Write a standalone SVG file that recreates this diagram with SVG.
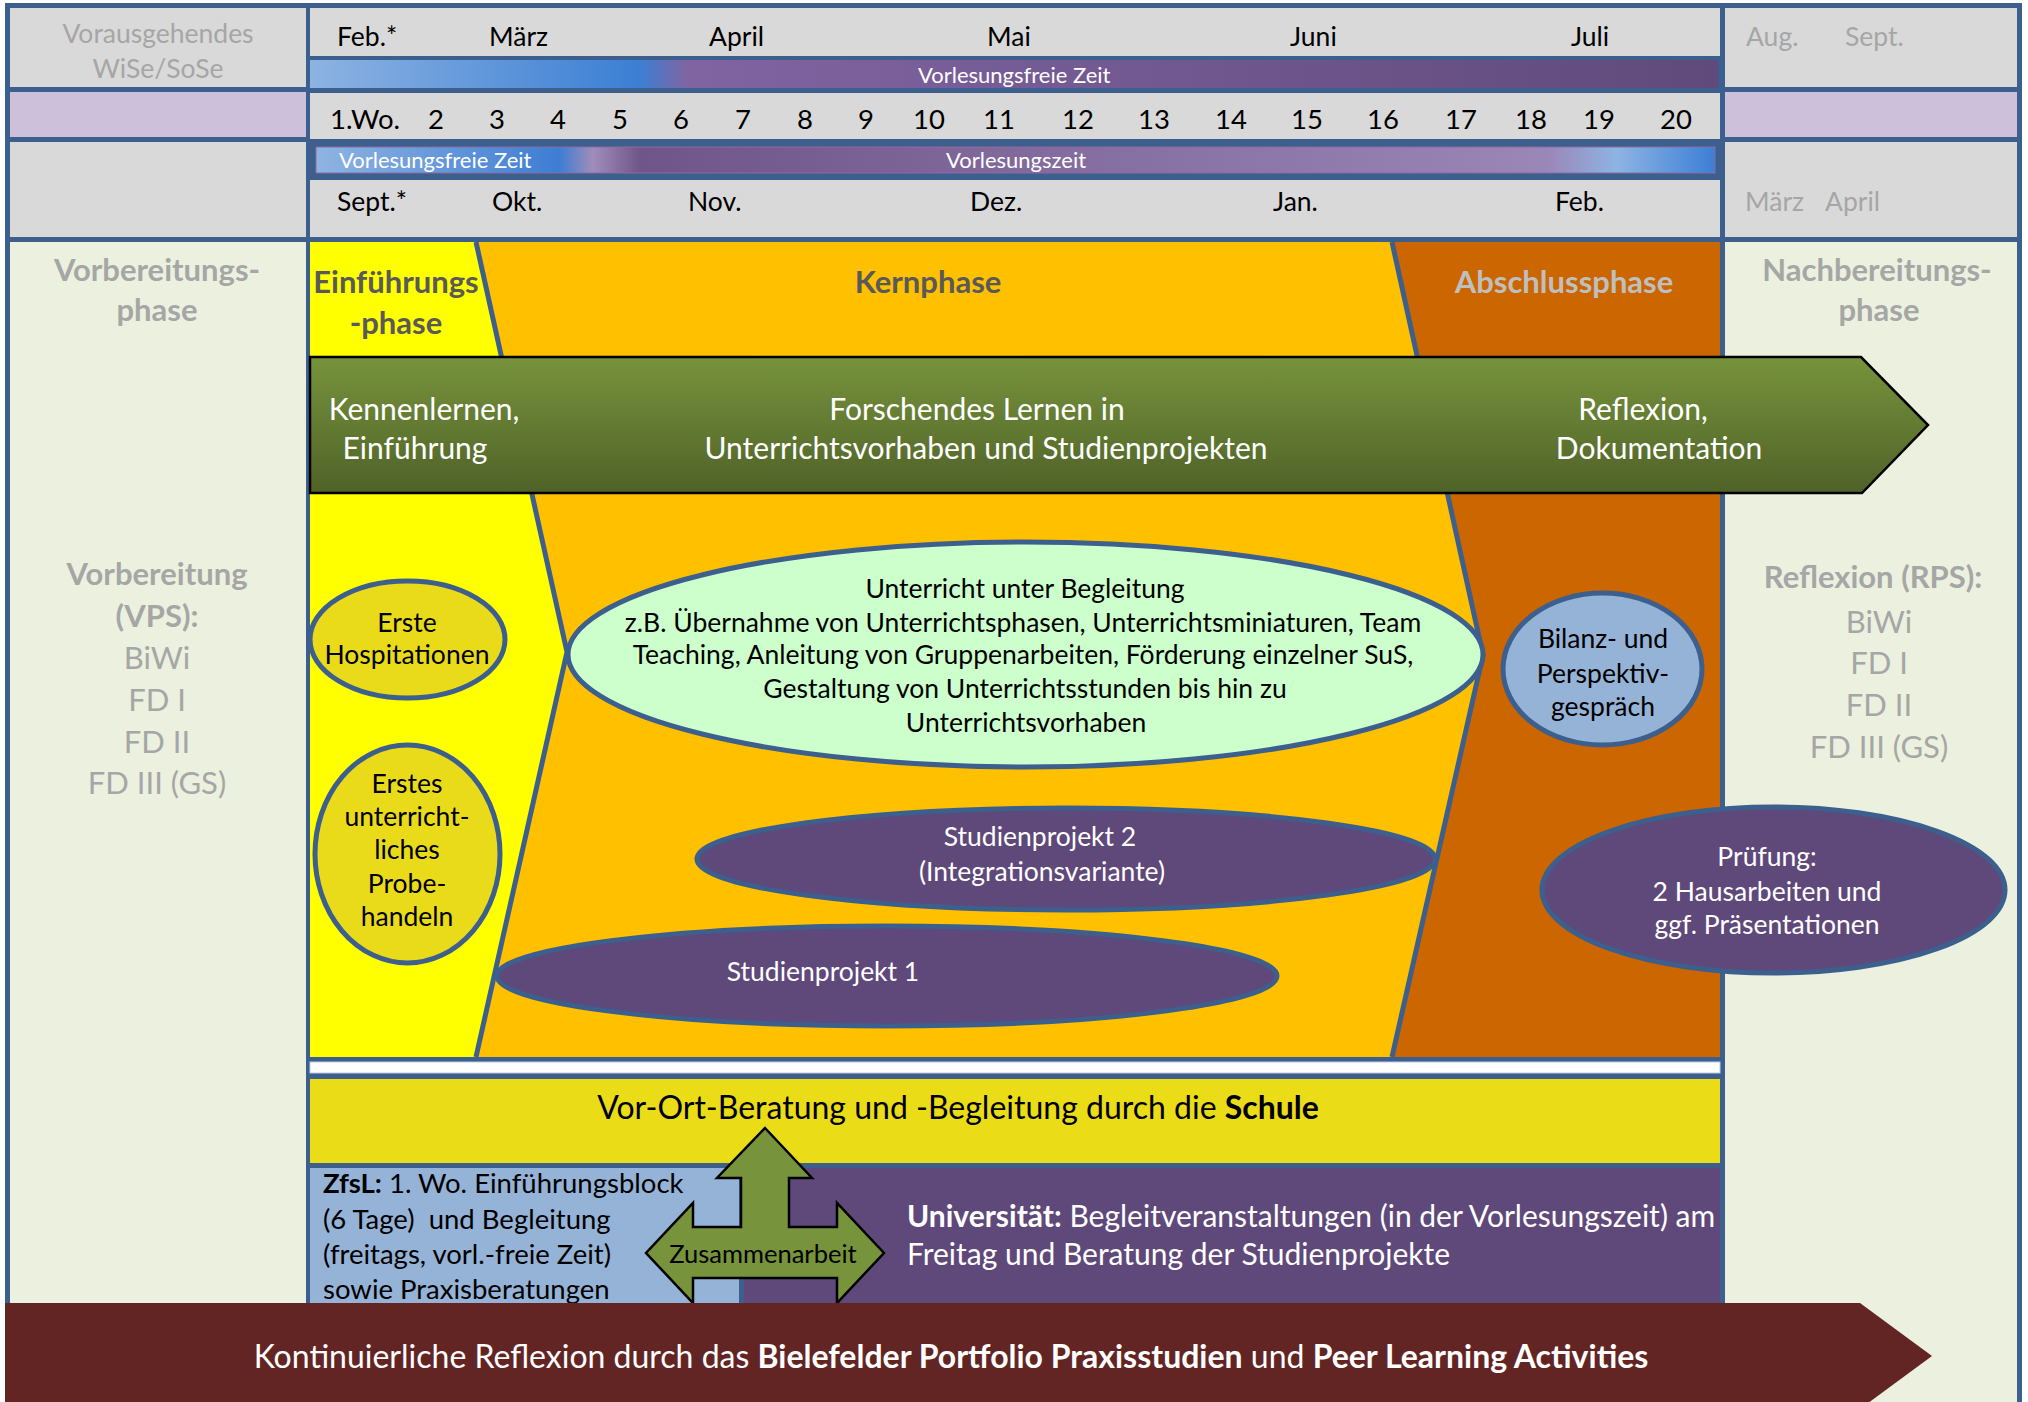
<svg xmlns="http://www.w3.org/2000/svg" width="2028" height="1402" viewBox="0 0 2028 1402">
<style>
text{font-family:Lato,"Liberation Sans","DejaVu Sans",sans-serif;}
.mo{font-size:26.5px;fill:#000;}
.wk{font-size:27.5px;fill:#000;}
.gr{font-size:26.5px;fill:#A6A6A6;}
.bar{font-size:22px;fill:#fff;}
.ph{font-size:31px;font-weight:bold;}
.side{font-size:31px;fill:#A6A6A6;text-anchor:middle;}
.sideb{font-size:31px;fill:#A6A6A6;font-weight:bold;text-anchor:middle;}
.arr{font-size:30px;fill:#fff;text-anchor:middle;}
.el{font-size:26.5px;text-anchor:middle;}
.gray{fill:#D9D9D9;}
.lil{fill:#CCC0DA;}
.lg{fill:#EBF1DE;}
.ell{stroke:#3C5F8D;stroke-width:5;}
.div{fill:none;stroke:#3C5F8D;stroke-width:5;stroke-linejoin:round;}
</style>
<defs>
<linearGradient id="barTop" x1="0" y1="0" x2="1" y2="0">
<stop offset="0" stop-color="#8DB3E2"/>
<stop offset="0.234" stop-color="#3B7FD4"/>
<stop offset="0.268" stop-color="#8064A2"/>
<stop offset="1" stop-color="#604A7B"/>
</linearGradient>
<linearGradient id="barBot" x1="0" y1="0" x2="1" y2="0">
<stop offset="0" stop-color="#8EB4E3"/>
<stop offset="0.174" stop-color="#3E7DD3"/>
<stop offset="0.198" stop-color="#A08DBA"/>
<stop offset="0.232" stop-color="#6F5589"/>
<stop offset="0.88" stop-color="#9B86B8"/>
<stop offset="0.93" stop-color="#8DB4E3"/>
<stop offset="1" stop-color="#3C7ED6"/>
</linearGradient>
<linearGradient id="greenGrad" x1="0" y1="0" x2="0" y2="1">
<stop offset="0" stop-color="#77933C"/>
<stop offset="1" stop-color="#4F6228"/>
</linearGradient>
</defs>

<rect x="5" y="3" width="2017" height="1399" fill="#3C5F8D"/>

<g id="header-left">
<rect class="gray" x="10" y="8" width="296" height="79"/>
<rect class="lil" x="10" y="92" width="296" height="45"/>
<rect class="gray" x="10" y="142" width="296" height="95"/>
<text class="gr" x="158" y="43" text-anchor="middle">Vorausgehendes</text>
<text class="gr" x="158" y="78" text-anchor="middle">WiSe/SoSe</text>
</g>

<g id="header-middle">
<rect class="gray" x="310" y="8" width="1410" height="48"/>
<rect x="310" y="60" width="1408" height="28" fill="url(#barTop)"/>
<rect class="gray" x="310" y="93" width="1410" height="46"/>
<rect x="316" y="147" width="1399" height="26" fill="url(#barBot)" stroke="#8E6A9E" stroke-width="1"/>
<rect class="gray" x="310" y="180" width="1410" height="57"/>
<text class="mo" y="45.5"><tspan x="337">Feb.*</tspan><tspan x="489">März</tspan><tspan x="709">April</tspan><tspan x="987">Mai</tspan><tspan x="1290">Juni</tspan><tspan x="1571">Juli</tspan></text>
<text class="bar" x="918" y="83">Vorlesungsfreie Zeit</text>
<text class="wk" y="129"><tspan x="330">1.Wo.</tspan><tspan x="428">2</tspan><tspan x="489">3</tspan><tspan x="550">4</tspan><tspan x="612">5</tspan><tspan x="673">6</tspan><tspan x="735">7</tspan><tspan x="797">8</tspan><tspan x="858">9</tspan><tspan x="913">10</tspan><tspan x="983">11</tspan><tspan x="1062">12</tspan><tspan x="1138">13</tspan><tspan x="1215">14</tspan><tspan x="1291">15</tspan><tspan x="1367">16</tspan><tspan x="1445">17</tspan><tspan x="1515">18</tspan><tspan x="1583">19</tspan><tspan x="1660">20</tspan></text>
<text class="bar" x="339" y="168">Vorlesungsfreie Zeit</text>
<text class="bar" x="946" y="168">Vorlesungszeit</text>
<text class="mo" y="211"><tspan x="337">Sept.*</tspan><tspan x="492">Okt.</tspan><tspan x="688">Nov.</tspan><tspan x="970">Dez.</tspan><tspan x="1273">Jan.</tspan><tspan x="1555">Feb.</tspan></text>
</g>

<g id="header-right">
<rect class="gray" x="1725" y="8" width="292" height="79"/>
<rect class="lil" x="1725" y="92" width="292" height="45"/>
<rect class="gray" x="1725" y="142" width="292" height="95"/>
<text class="gr" y="45.5"><tspan x="1746">Aug.</tspan><tspan x="1845">Sept.</tspan></text>
<text class="gr" y="211"><tspan x="1745">März</tspan><tspan x="1825">April</tspan></text>
</g>

<g id="vorbereitungsphase">
<rect class="lg" x="10" y="242" width="296" height="1061"/>
<text class="sideb" x="157" y="281">Vorbereitungs-</text>
<text class="sideb" x="157" y="321">phase</text>
<text class="sideb" x="157" y="585">Vorbereitung</text>
<text class="sideb" x="157" y="627">(VPS):</text>
<text class="side" x="157" y="669">BiWi</text>
<text class="side" x="157" y="711">FD I</text>
<text class="side" x="157" y="753">FD II</text>
<text class="side" x="157" y="794">FD III (GS)</text>
</g>

<g id="nachbereitungsphase">
<rect class="lg" x="1725" y="242" width="292" height="1160"/>
<text class="sideb" x="1877" y="281">Nachbereitungs-</text>
<text class="sideb" x="1879" y="321">phase</text>
<text class="sideb" x="1873" y="588">Reflexion (RPS):</text>
<text class="side" x="1879" y="633">BiWi</text>
<text class="side" x="1879" y="674">FD I</text>
<text class="side" x="1879" y="716">FD II</text>
<text class="side" x="1879" y="758">FD III (GS)</text>
</g>

<g id="phasen">
<polygon points="310,242 476,242 567,652 476,1057 310,1057" fill="#FFFF00"/>
<polygon points="476,242 1392,242 1483,655 1392,1057 476,1057 567,652" fill="#FFC000"/>
<polygon points="1392,242 1720,242 1720,1057 1392,1057 1483,655" fill="#CC6600"/>
<polyline class="div" points="476,242 567,652 476,1057"/>
<polyline class="div" points="1392,242 1483,655 1392,1057"/>
<text class="ph" x="396" y="293" text-anchor="middle" fill="#595959">Einführungs</text>
<text class="ph" x="396" y="334" text-anchor="middle" fill="#595959">-phase</text>
<text class="ph" x="928" y="293" text-anchor="middle" fill="#595959">Kernphase</text>
<text class="ph" x="1564" y="293" text-anchor="middle" fill="#BFBFBF">Abschlussphase</text>
</g>

<g id="forschendes-lernen">
<polygon points="310,357 1861,357 1928,425 1862,493 310,493" fill="url(#greenGrad)" stroke="#000" stroke-width="2.5" stroke-linejoin="miter"/>
<text class="arr" x="424" y="420">Kennenlernen,</text>
<text class="arr" x="415" y="459">Einführung</text>
<text class="arr" x="977" y="420">Forschendes Lernen in</text>
<text class="arr" x="986" y="459">Unterrichtsvorhaben und Studienprojekten</text>
<text class="arr" x="1643" y="420">Reflexion,</text>
<text class="arr" x="1659" y="459">Dokumentation</text>
</g>

<g id="erste-hospitationen">
<ellipse class="ell" cx="407.5" cy="639.5" rx="97.5" ry="58.5" fill="#EADB1A"/>
<text class="el" x="407" y="632">Erste</text>
<text class="el" x="407" y="664">Hospitationen</text>
</g>

<g id="erstes-probehandeln">
<ellipse class="ell" cx="407.5" cy="854" rx="92.5" ry="109" fill="#EADB1A"/>
<text class="el" x="407" y="793">Erstes</text>
<text class="el" x="407" y="826">unterricht-</text>
<text class="el" x="407" y="859">liches</text>
<text class="el" x="407" y="893">Probe-</text>
<text class="el" x="407" y="926">handeln</text>
</g>

<g id="unterricht-unter-begleitung">
<ellipse class="ell" cx="1025.5" cy="654.5" rx="457.5" ry="112.5" fill="#CCFFCC"/>
<text class="el" x="1025" y="598">Unterricht unter Begleitung</text>
<text class="el" x="1023" y="632">z.B. Übernahme von Unterrichtsphasen, Unterrichtsminiaturen, Team</text>
<text class="el" x="1023" y="664">Teaching, Anleitung von Gruppenarbeiten, Förderung einzelner SuS,</text>
<text class="el" x="1025" y="698">Gestaltung von Unterrichtsstunden bis hin zu</text>
<text class="el" x="1026" y="732">Unterrichtsvorhaben</text>
</g>

<g id="studienprojekt-2">
<ellipse class="ell" cx="1066" cy="859" rx="369" ry="51" fill="#5F497A"/>
<text class="el" x="1040" y="846" fill="#fff">Studienprojekt 2</text>
<text class="el" x="1042" y="881" fill="#fff">(Integrationsvariante)</text>
</g>

<g id="studienprojekt-1">
<ellipse class="ell" cx="887" cy="976" rx="390" ry="50" fill="#5F497A"/>
<text class="el" x="823" y="981" fill="#fff">Studienprojekt 1</text>
</g>

<g id="bilanzgespraech">
<ellipse class="ell" cx="1602.5" cy="669" rx="99.5" ry="76" fill="#95B3D7"/>
<text class="el" x="1603" y="648">Bilanz- und</text>
<text class="el" x="1603" y="683">Perspektiv-</text>
<text class="el" x="1603" y="716">gespräch</text>
</g>

<g id="pruefung">
<ellipse class="ell" cx="1773.5" cy="890" rx="231.5" ry="83" fill="#5F497A"/>
<text class="el" x="1767" y="866" fill="#fff">Prüfung:</text>
<text class="el" x="1767" y="901" fill="#fff">2 Hausarbeiten und</text>
<text class="el" x="1767" y="934" fill="#fff">ggf. Präsentationen</text>
</g>

<g id="trennstreifen">
<rect x="310" y="1062" width="1410" height="11" fill="#FFFFFF" stroke="#B9CDE5" stroke-width="1"/>
</g>

<g id="schule">
<rect x="310" y="1079" width="1410" height="84" fill="#EADC16"/>
<text x="958" y="1119" text-anchor="middle" style="font-size:32px" fill="#000">Vor-Ort-Beratung und -Begleitung durch die <tspan font-weight="bold">Schule</tspan></text>
</g>

<g id="zfsl">
<rect x="310" y="1168" width="429" height="135" fill="#95B3D7"/>
<text style="font-size:27.5px" fill="#000">
<tspan x="323" y="1193"><tspan font-weight="bold">ZfsL:</tspan> 1. Wo. Einführungsblock</tspan>
<tspan x="323" y="1229">(6 Tage)&#160; und Begleitung</tspan>
<tspan x="323" y="1264">(freitags, vorl.-freie Zeit)</tspan>
<tspan x="323" y="1299">sowie Praxisberatungen</tspan>
</text>
</g>

<g id="universitaet">
<rect x="744" y="1168" width="976" height="135" fill="#5F497A"/>
<text style="font-size:30px" fill="#fff">
<tspan x="907" y="1227"><tspan font-weight="bold">Universität:</tspan> Begleitveranstaltungen (in der Vorlesungszeit) am</tspan>
<tspan x="907" y="1265">Freitag und Beratung der Studienprojekte</tspan>
</text>
</g>

<g id="connectors">
<polygon points="765,1128 812,1178 789,1178 789,1227 837,1227 837,1203 884,1253 837,1303 837,1278 693,1278 693,1303 646,1253 693,1203 693,1227 741,1227 741,1178 717,1178" fill="#77933C" stroke="#000" stroke-width="2.5" stroke-linejoin="miter"/>
<text x="763" y="1263" text-anchor="middle" style="font-size:25.5px" fill="#000">Zusammenarbeit</text>
</g>

<g id="kontinuierliche-reflexion">
<polygon points="5,1303 1860,1303 1932,1356 1860,1409 5,1409" fill="#632523"/>
<text x="951" y="1368" text-anchor="middle" style="font-size:32px" fill="#fff">Kontinuierliche Reflexion durch das <tspan font-weight="bold">Bielefelder Portfolio Praxisstudien</tspan> und <tspan font-weight="bold">Peer Learning Activities</tspan></text>
</g>
</svg>
